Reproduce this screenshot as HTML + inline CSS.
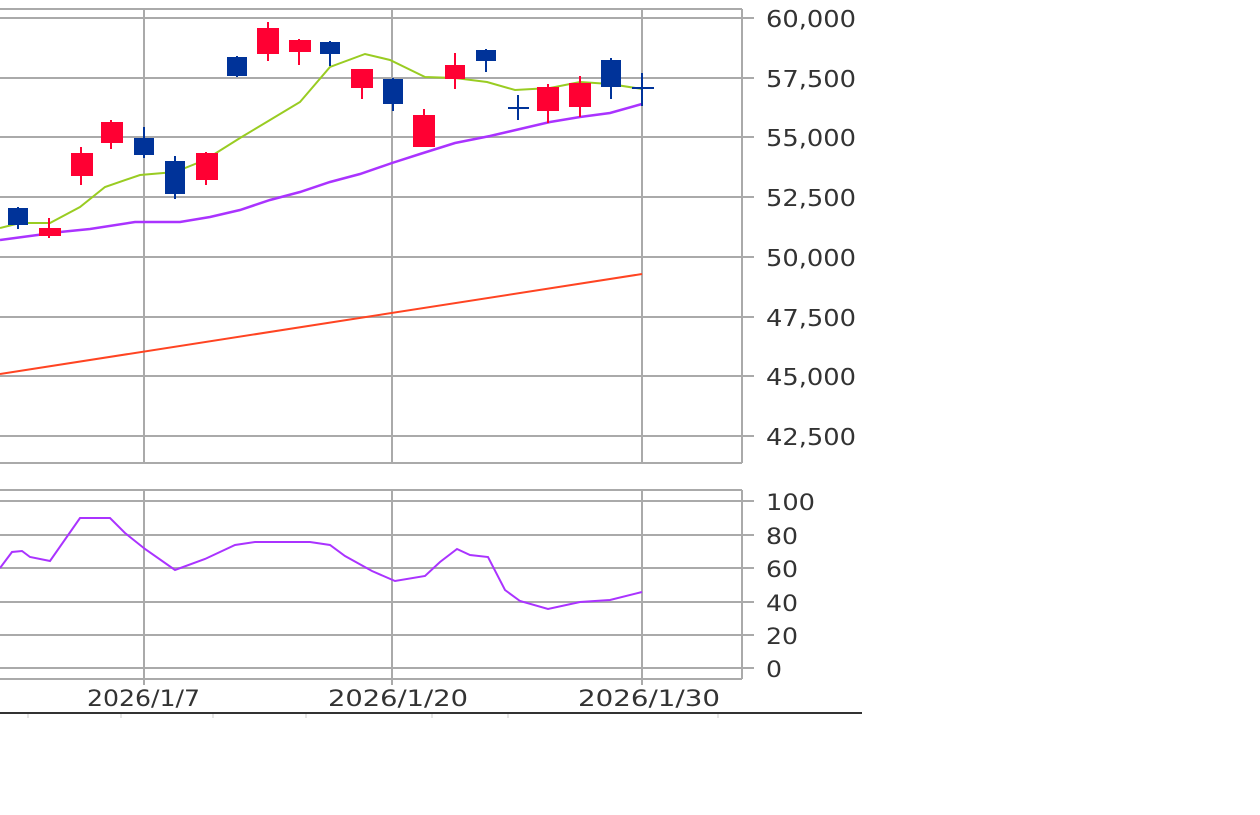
<!DOCTYPE html>
<html><head><style>body{margin:0;background:#fff}svg{display:block}</style></head><body>
<svg width="1260" height="815" xmlns="http://www.w3.org/2000/svg" font-family="DejaVu Sans, Liberation Sans, sans-serif">
<rect width="1260" height="815" fill="#fff"/>
<g stroke="#aaa" stroke-width="2">
<line x1="0" y1="9" x2="742" y2="9"/><line x1="742" y1="9" x2="742" y2="463"/><line x1="0" y1="463" x2="742" y2="463"/>
<line x1="0" y1="18" x2="754" y2="18"/><line x1="0" y1="78" x2="754" y2="78"/><line x1="0" y1="137" x2="754" y2="137"/><line x1="0" y1="197" x2="754" y2="197"/><line x1="0" y1="257" x2="754" y2="257"/><line x1="0" y1="317" x2="754" y2="317"/><line x1="0" y1="376" x2="754" y2="376"/><line x1="0" y1="436" x2="754" y2="436"/>
<line x1="144" y1="9" x2="144" y2="463"/><line x1="392" y1="9" x2="392" y2="463"/><line x1="642" y1="9" x2="642" y2="463"/>
<line x1="0" y1="490" x2="742" y2="490"/><line x1="742" y1="490" x2="742" y2="679"/><line x1="0" y1="679" x2="742" y2="679"/>
<line x1="0" y1="501" x2="754" y2="501"/><line x1="0" y1="535" x2="754" y2="535"/><line x1="0" y1="568" x2="754" y2="568"/><line x1="0" y1="602" x2="754" y2="602"/><line x1="0" y1="635" x2="754" y2="635"/><line x1="0" y1="668" x2="754" y2="668"/>
<line x1="144" y1="490" x2="144" y2="685"/><line x1="392" y1="490" x2="392" y2="685"/><line x1="642" y1="490" x2="642" y2="685"/>
</g>
<line x1="0" y1="713" x2="862" y2="713" stroke="#333" stroke-width="2"/>
<g stroke="#ccc" stroke-width="1"><line x1="28" y1="714" x2="28" y2="718"/><line x1="121" y1="714" x2="121" y2="718"/><line x1="213" y1="714" x2="213" y2="718"/><line x1="306" y1="714" x2="306" y2="718"/><line x1="432" y1="714" x2="432" y2="718"/><line x1="508" y1="714" x2="508" y2="718"/><line x1="718" y1="714" x2="718" y2="718"/></g>
<polyline fill="none" stroke="#ff4422" stroke-width="2" points="0,374 642,274"/>
<polyline fill="none" stroke="#aa33ff" stroke-width="2.5" points="0,240 30,236 60,232 90,229 135,222 180,222 210,217 240,210 270,200 300,192 330,182 360,174 392,163 420,154 455,143 490,136 520,129 550,122 580,117 610,113 642,104"/>
<polyline fill="none" stroke="#99cc22" stroke-width="2" points="0,228 20,223 50,223 80,207 105,187 140,175 175,172 205,160 240,138 270,120 300,102 330,67 365,54 390,60 425,77 455,78 487,82 515,90 550,88 580,82 610,84 642,89"/>
<g stroke-width="2">
<g fill="#003399" stroke="#003399">
<line x1="18" y1="207" x2="18" y2="229"/><rect x="9" y="209" width="18" height="15"/>
<line x1="144" y1="127" x2="144" y2="158"/><rect x="135" y="139" width="18" height="15"/>
<line x1="175" y1="156" x2="175" y2="199"/><rect x="166" y="162" width="18" height="31"/>
<line x1="237" y1="56" x2="237" y2="77"/><rect x="228" y="58" width="18" height="17"/>
<line x1="330" y1="41" x2="330" y2="66"/><rect x="321" y="43" width="18" height="10"/>
<line x1="393" y1="78" x2="393" y2="111"/><rect x="384" y="80" width="18" height="23"/>
<line x1="486" y1="49" x2="486" y2="72"/><rect x="477" y="51" width="18" height="9"/>
<line x1="518" y1="95" x2="518" y2="120"/><line x1="508" y1="108" x2="529" y2="108"/>
<line x1="611" y1="58" x2="611" y2="99"/><rect x="602" y="61" width="18" height="25"/>
<line x1="642" y1="73" x2="642" y2="106"/><line x1="632" y1="88" x2="654" y2="88"/>
</g>
<g fill="#ff0033" stroke="#ff0033">
<line x1="49" y1="218" x2="49" y2="238"/><rect x="40" y="229" width="20" height="6"/>
<line x1="81" y1="147" x2="81" y2="185"/><rect x="72" y="154" width="20" height="21"/>
<line x1="111" y1="120" x2="111" y2="149"/><rect x="102" y="123" width="20" height="19"/>
<line x1="206" y1="152" x2="206" y2="185"/><rect x="197" y="154" width="20" height="25"/>
<line x1="268" y1="22" x2="268" y2="61"/><rect x="258" y="29" width="20" height="24"/>
<line x1="299" y1="39" x2="299" y2="65"/><rect x="290" y="41" width="20" height="10"/>
<line x1="362" y1="70" x2="362" y2="99"/><rect x="352" y="70" width="20" height="17"/>
<line x1="424" y1="109" x2="424" y2="146"/><rect x="414" y="116" width="20" height="30"/>
<line x1="455" y1="53" x2="455" y2="89"/><rect x="446" y="66" width="18" height="12"/>
<line x1="548" y1="84" x2="548" y2="123"/><rect x="538" y="88" width="20" height="22"/>
<line x1="580" y1="76" x2="580" y2="117"/><rect x="570" y="84" width="20" height="22"/>
</g>
</g>
<polyline fill="none" stroke="#aa33ff" stroke-width="2" points="0,568 12,552 22,551 30,557 50,561 80,518 110,518 125,533 145,549 175,570 205,559 235,545 255,542 310,542 330,545 345,556 372,571 395,581 425,576 440,562 457,549 470,555 488,557 505,590 520,601 548,609 580,602 610,600 642,592"/>
<g fill="#333" font-size="23">
<text x="766" y="27" textLength="90" lengthAdjust="spacingAndGlyphs">60,000</text><text x="766" y="87" textLength="90" lengthAdjust="spacingAndGlyphs">57,500</text><text x="766" y="146" textLength="90" lengthAdjust="spacingAndGlyphs">55,000</text><text x="766" y="206" textLength="90" lengthAdjust="spacingAndGlyphs">52,500</text><text x="766" y="266" textLength="90" lengthAdjust="spacingAndGlyphs">50,000</text><text x="766" y="326" textLength="90" lengthAdjust="spacingAndGlyphs">47,500</text><text x="766" y="385" textLength="90" lengthAdjust="spacingAndGlyphs">45,000</text><text x="766" y="445" textLength="90" lengthAdjust="spacingAndGlyphs">42,500</text>
</g>
<g fill="#333" font-size="22">
<text x="766" y="510" textLength="49" lengthAdjust="spacingAndGlyphs">100</text><text x="766" y="544" textLength="32" lengthAdjust="spacingAndGlyphs">80</text><text x="766" y="577" textLength="32" lengthAdjust="spacingAndGlyphs">60</text><text x="766" y="611" textLength="32" lengthAdjust="spacingAndGlyphs">40</text><text x="766" y="644" textLength="32" lengthAdjust="spacingAndGlyphs">20</text><text x="766" y="677" textLength="16" lengthAdjust="spacingAndGlyphs">0</text>
<text x="87" y="706" textLength="113" lengthAdjust="spacingAndGlyphs">2026/1/7</text><text x="328" y="706" textLength="140" lengthAdjust="spacingAndGlyphs">2026/1/20</text><text x="578" y="706" textLength="142" lengthAdjust="spacingAndGlyphs">2026/1/30</text>
</g>
</svg>
</body></html>
